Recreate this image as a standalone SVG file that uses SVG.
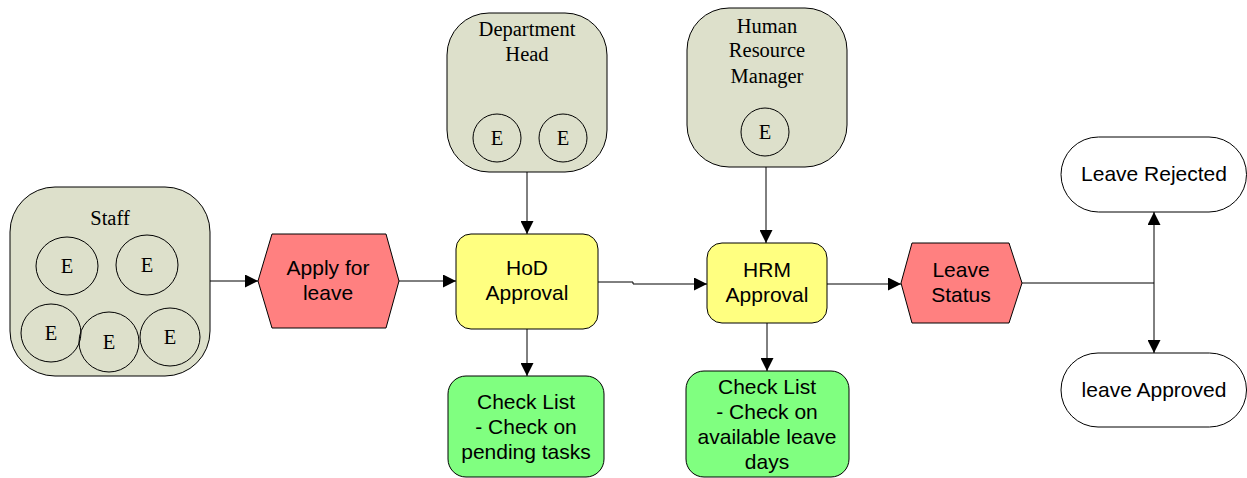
<svg xmlns="http://www.w3.org/2000/svg" width="1247" height="478" viewBox="0 0 1247 478">
<defs>
<style>
.role{fill:#dde0cb;stroke:#000;stroke-width:1}
.emp{fill:none;stroke:#000;stroke-width:1}
.ser{font-family:"Liberation Serif","Times New Roman",serif;font-size:20.5px;fill:#000;text-anchor:middle}
.san{font-family:"Liberation Sans",Arial,sans-serif;font-size:21px;fill:#000;text-anchor:middle}
.evt{fill:#ff8080;stroke:#000;stroke-width:1}
.fn{fill:#ffff80;stroke:#000;stroke-width:1}
.chk{fill:#80ff80;stroke:#000;stroke-width:1}
.term{fill:#fff;stroke:#000;stroke-width:1}
.con{fill:none;stroke:#000;stroke-width:1}
</style>
<marker id="ar" viewBox="0 0 10 10" refX="10" refY="5" markerWidth="13" markerHeight="13" markerUnits="userSpaceOnUse" orient="auto">
<path d="M0,0 L10,5 L0,10 Z" fill="#000"/>
</marker>
</defs>
<g id="connectors">
<path class="con" d="M210,281 H258" marker-end="url(#ar)"/>
<path class="con" d="M399,281 H456" marker-end="url(#ar)"/>
<path class="con" d="M527,169 V234" marker-end="url(#ar)"/>
<path class="con" d="M766,163 V243" marker-end="url(#ar)"/>
<path class="con" d="M598,282 H633 V284 H707" marker-end="url(#ar)"/>
<path class="con" d="M527,329 V376" marker-end="url(#ar)"/>
<path class="con" d="M767,323 V371" marker-end="url(#ar)"/>
<path class="con" d="M827,284 H901" marker-end="url(#ar)"/>
<path class="con" d="M1022,283 H1154"/>
<path class="con" d="M1154,283 V212" marker-end="url(#ar)"/>
<path class="con" d="M1154,283 V353" marker-end="url(#ar)"/>
</g>
<g id="staff">
<rect class="role" x="10" y="187" width="200" height="189" rx="45"/>
<text class="ser" x="110" y="225">Staff</text>
<ellipse class="emp" cx="67" cy="266" rx="31" ry="29"/>
<text class="ser" x="67" y="273">E</text>
<ellipse class="emp" cx="147" cy="265" rx="31" ry="30"/>
<text class="ser" x="147" y="272">E</text>
<ellipse class="emp" cx="51" cy="333" rx="30" ry="29"/>
<text class="ser" x="51" y="340">E</text>
<ellipse class="emp" cx="109" cy="342" rx="30" ry="30"/>
<text class="ser" x="109" y="349">E</text>
<ellipse class="emp" cx="170" cy="337" rx="30" ry="29"/>
<text class="ser" x="170" y="344">E</text>
</g>
<g id="apply">
<polygon class="evt" points="258,281 272,234 386,234 399,281 386,328 272,328"/>
<text class="san" x="328" y="275">Apply for</text>
<text class="san" x="328" y="300">leave</text>
</g>
<g id="depthead">
<rect class="role" x="447" y="13" width="160" height="159" rx="42"/>
<text class="ser" x="527" y="36">Department</text>
<text class="ser" x="527" y="61">Head</text>
<circle class="emp" cx="497" cy="138" r="24"/>
<text class="ser" x="497" y="145">E</text>
<circle class="emp" cx="563" cy="138" r="24"/>
<text class="ser" x="563" y="145">E</text>
</g>
<g id="hrmgr">
<rect class="role" x="687" y="8" width="160" height="159" rx="42"/>
<text class="ser" x="767" y="33">Human</text>
<text class="ser" x="767" y="57">Resource</text>
<text class="ser" x="767" y="83">Manager</text>
<circle class="emp" cx="765" cy="132" r="24"/>
<text class="ser" x="765" y="139">E</text>
</g>
<g id="hod">
<rect class="fn" x="456" y="234" width="142" height="95" rx="15"/>
<text class="san" x="527" y="275">HoD</text>
<text class="san" x="527" y="300">Approval</text>
</g>
<g id="hrm">
<rect class="fn" x="707" y="243" width="120" height="80" rx="15"/>
<text class="san" x="767" y="277">HRM</text>
<text class="san" x="767" y="302">Approval</text>
</g>
<g id="check1">
<rect class="chk" x="448" y="376" width="156" height="101" rx="18"/>
<text class="san" x="526" y="409">Check List</text>
<text class="san" x="526" y="434">- Check on</text>
<text class="san" x="526" y="459">pending tasks</text>
</g>
<g id="check2">
<rect class="chk" x="686" y="371" width="163" height="106" rx="18"/>
<text class="san" x="767" y="394">Check List</text>
<text class="san" x="767" y="419">- Check on</text>
<text class="san" x="767" y="444">available leave</text>
<text class="san" x="767" y="469">days</text>
</g>
<g id="status">
<polygon class="evt" points="901,283 912,243 1009,243 1022,283 1009,323 912,323"/>
<text class="san" x="961" y="277">Leave</text>
<text class="san" x="961" y="302">Status</text>
</g>
<g id="rejected">
<rect class="term" x="1061" y="137" width="185.5" height="75" rx="37.5"/>
<text class="san" x="1154" y="181">Leave Rejected</text>
</g>
<g id="approved">
<rect class="term" x="1061" y="353" width="185.5" height="74" rx="37"/>
<text class="san" x="1154" y="397">leave Approved</text>
</g>
</svg>
